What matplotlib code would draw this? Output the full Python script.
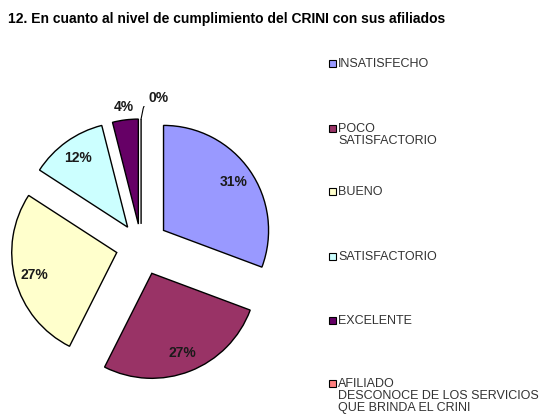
import numpy as np
import matplotlib.pyplot as plt
from matplotlib.patches import Rectangle

plt.rcParams['font.family'] = ['Liberation Sans', 'DejaVu Sans']

title = '12. En cuanto al nivel de cumplimiento del CRINI con sus afiliados'
categorias = ['INSATISFECHO', 'POCO\nSATISFACTORIO', 'BUENO', 'SATISFACTORIO',
              'EXCELENTE', 'AFILIADO\nDESCONOCE DE LOS SERVICIOS\nQUE BRINDA EL CRINI']
porcentajes = [31, 27, 27, 12, 4, 0]
colores = ['#9999FF', '#993366', '#FFFFCC', '#CCFFFF', '#660066', '#FF8080']

fig = plt.figure(figsize=(5.41, 4.19), dpi=100)
ax = fig.add_axes([0.002, 0.079, 0.5176, 0.668])

explode = [0.26, 0.28, 0.24, 0.22, 0.21, 0.21]
wedges, _ = ax.pie(porcentajes, colors=colores, startangle=90, counterclock=False,
                   explode=explode, radius=1.0,
                   wedgeprops=dict(edgecolor='black', linewidth=1.0))
ax.set_xlim(-1.333, 1.333)
ax.set_ylim(-1.333, 1.333)
ax.set_aspect('auto')
ax.axis('off')

for w, v in zip(wedges, porcentajes):
    ang = np.deg2rad((w.theta1 + w.theta2) / 2.0)
    cx, cy = w.center
    if v >= 10:
        d = 0.81
    elif v > 0:
        d = 1.12
    else:
        d = 1.2
    tx, ty = cx + d * np.cos(ang), cy + d * np.sin(ang)
    if v == 0:
        tx += 0.17
        ax.plot([cx + 1.0 * np.cos(ang), cx + 0.02, tx - 0.12],
                [cy + 1.0 * np.sin(ang), ty - 0.1, ty - 0.02],
                color='black', lw=0.8)
    ax.text(tx, ty, '%d%%' % v, ha='center', va='center',
            fontsize=10, fontweight='bold', color='#1a1a1a')

fig.text(0.015, 0.955, title, fontsize=10, fontweight='bold', va='center', ha='left')

W, H = 541.0, 419.0
ys = [63, 128, 191, 256, 320, 383]
for y, c, lab in zip(ys, colores, categorias):
    fig.patches.append(Rectangle((329 / W, 1 - (y + 4) / H), 7 / W, 7 / H,
                                 facecolor=c, edgecolor='black', linewidth=0.8,
                                 transform=fig.transFigure, figure=fig))
    fig.text(338 / W, 1 - (y - 5) / H, lab, fontsize=9, color='#333333',
             va='top', ha='left', linespacing=1.0)

fig.savefig('out.png', dpi=100)
